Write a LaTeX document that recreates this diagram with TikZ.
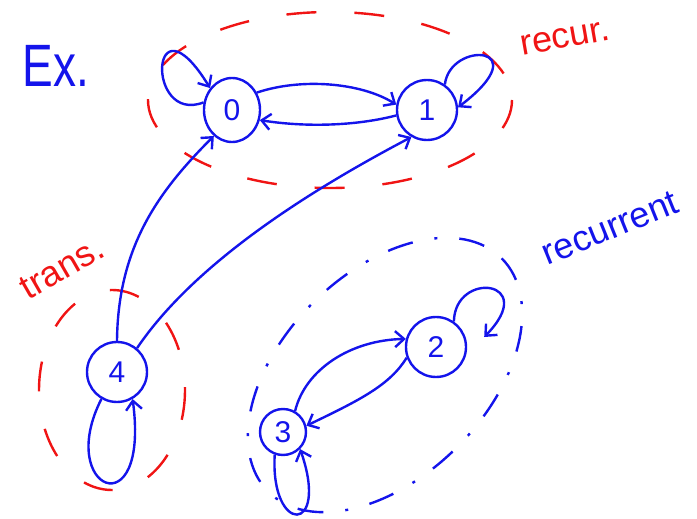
\documentclass[tikz,border=0pt]{standalone}
\usepackage{fontspec}
\setmainfont{Liberation Sans}
\usetikzlibrary{arrows.meta,shapes.geometric}
\definecolor{pblue}{RGB}{20,20,235}
\definecolor{pred}{RGB}{240,20,20}
\tikzset{
  st/.style={circle, draw=pblue, line width=2.4pt, text=pblue, inner sep=0pt, font=\fontsize{30}{30}\selectfont},
  ed/.style={draw=pblue, line width=2.4pt, -{Straight Barb[length=9pt,width=16pt,line width=2.4pt]}},
  reddash/.style={draw=pred, line width=2.4pt, dash pattern=on 30pt off 38pt},
  bluedash/.style={draw=pblue, line width=2.4pt, dash pattern=on 26pt off 22pt on 3pt off 22pt},
  lbl/.style={inner sep=0pt, font=\fontsize{36}{36}\selectfont}
}
\begin{document}
\begin{tikzpicture}[x=1pt,y=-1pt]
\useasboundingbox (0,0) rectangle (697,519);
% states
\node[st, ellipse, minimum width=56pt, minimum height=64pt] (n0) at (232,110) {0};
\node[st, minimum width=56pt, minimum height=60pt] (n1) at (427,110) {1};
\node[st, minimum size=60pt] (n4) at (117,372) {4};
\node[st, minimum size=60pt] (n2) at (436,347) {2};
\node[st, minimum size=46pt] (n3) at (283,432) {3};
\coordinate (t2) at ([shift={(17,-10)}]n2.east);
% class boundaries
\draw[reddash] (330,100) ellipse [x radius=182, y radius=88];
\draw[reddash] (112,390) ellipse [x radius=73, y radius=100];
\draw[bluedash, rotate around={45:(385,375)}] (385,375) ellipse [x radius=165, y radius=102];
% labels
\node[lbl, text=pblue, yscale=1.3, font=\fontsize{46}{46}\selectfont] (ex) at (56,66) {Ex.};
\node[lbl, text=pred, rotate=10] (recur) at (565,38) {recur.};
\node[lbl, text=pred, rotate=30] (trans) at (62,268) {trans.};
\node[lbl, text=pblue, rotate=22] (rec) at (610,228) {recurrent};
% transitions
\draw[ed] (n0.35) .. controls (300,78) and (360,82) .. (n1.170);
\draw[ed] (n1.190) .. controls (360,125) and (310,128) .. (n0.340);
\draw[ed] (n0.165) .. controls (145,125) and (150,-10) .. (n0.135);
\draw[ed] (n1.55) .. controls (450,40) and (540,45) .. (n1.5);
\draw[ed] (n4.north) .. controls (118,245) and (160,190) .. (n0.235);
\draw[ed] (n4.50) .. controls (200,255) and (330,180) .. (n1.240);
\draw[ed] (n4.240) .. controls (55,490) and (150,530) .. (n4.300);
\draw[ed] (n3.60) .. controls (305,370) and (350,340) .. (n2.165);
\draw[ed] (n2.200) .. controls (390,385) and (360,400) .. (n3.15);
\draw[ed] (n2.55) .. controls (455,270) and (540,280) .. (t2);
\draw[ed] (n3.250) .. controls (270,535) and (330,535) .. (n3.315);
\end{tikzpicture}
\end{document}
